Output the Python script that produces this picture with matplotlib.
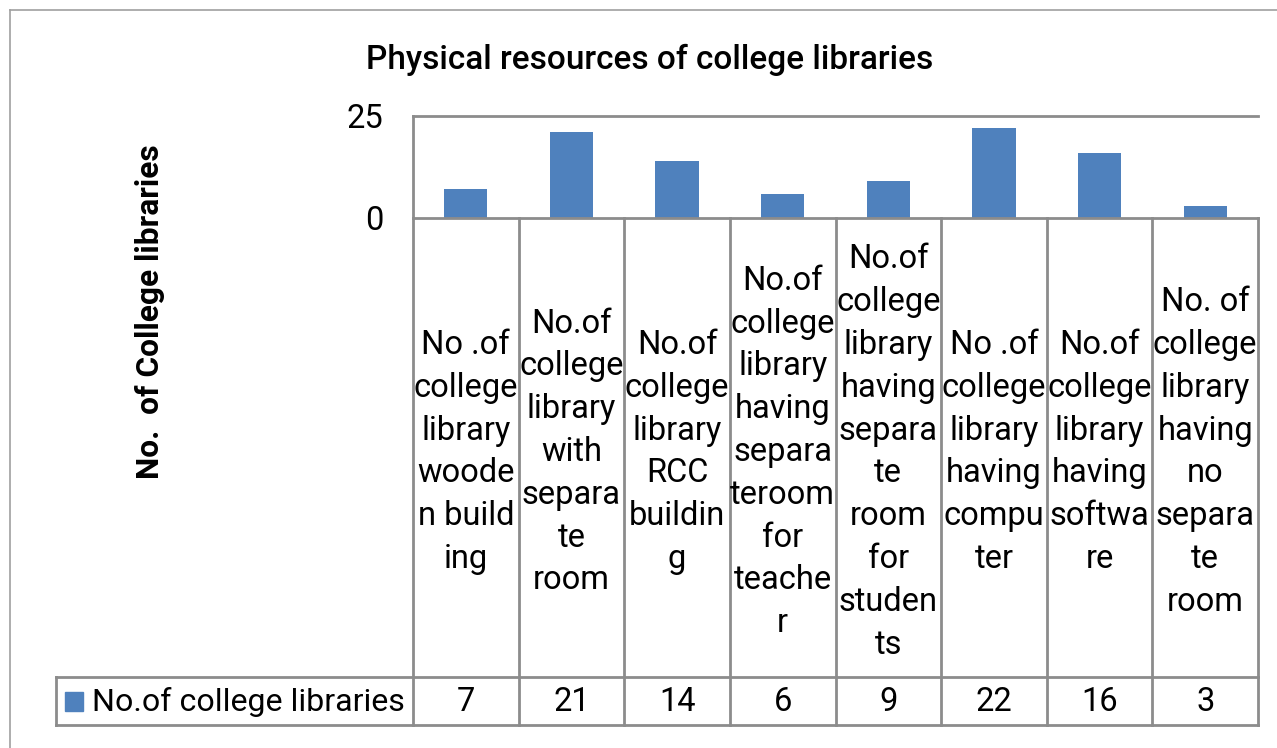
import matplotlib
matplotlib.use("Agg")
import matplotlib.pyplot as plt
from matplotlib.transforms import blended_transform_factory
from matplotlib.lines import Line2D
from matplotlib.patches import Rectangle

plt.rcParams['font.family'] = ['Roboto', 'DejaVu Sans']

# ---- data ----
categories = [
    "No .of\ncollege\nlibrary\nwoode\nn build\ning",
    "No.of\ncollege\nlibrary\nwith\nsepara\nte\nroom",
    "No.of\ncollege\nlibrary\nRCC\nbuildin\ng",
    "No.of\ncollege\nlibrary\nhaving\nsepara\nteroom\nfor\nteache\nr",
    "No.of\ncollege\nlibrary\nhaving\nsepara\nte\nroom\nfor\nstuden\nts",
    "No .of\ncollege\nlibrary\nhaving\ncompu\nter",
    "No.of\ncollege\nlibrary\nhaving\nsoftwa\nre",
    "No. of\ncollege\nlibrary\nhaving\nno\nsepara\nte\nroom",
]
values = [7, 21, 14, 6, 9, 22, 16, 3]
series_name = "No.of college libraries"
y_ticks = [0, 25]
title = "Physical resources of college libraries"
y_label = "No.  of College libraries"

BAR = "#4F81BD"
GRID = "#8C8C8C"
FS = 23.5

W, H = 1277, 748
fig = plt.figure(figsize=(W / 100, H / 100), dpi=100)

def fy(p):  # pixel-from-top -> figure fraction
    return 1 - p / H

def fx(p):
    return p / W

# plot area
left, right, top, zero = 413, 1258, 116, 218
ax = fig.add_axes([fx(left), fy(zero), fx(right - left), (zero - top) / H])
x = list(range(len(values)))
ax.bar(x, values, width=0.41, color=BAR, zorder=3)
ax.set_xlim(-0.5, len(values) - 0.5)
ax.set_ylim(y_ticks[0], y_ticks[-1])
ax.set_yticks(y_ticks)
ax.set_yticklabels([str(t) for t in y_ticks], fontsize=FS)
ax.tick_params(axis='y', length=0, pad=21.5)
ax.set_xticks([])
for s in ['right', 'bottom']:
    ax.spines[s].set_visible(False)
for s in ['left', 'top']:
    ax.spines[s].set_color(GRID)
    ax.spines[s].set_linewidth(2)

# outer chart frame
fig.add_artist(Line2D([fx(10), fx(10)], [fy(10), fy(748)], color="#A0A0A0", lw=1.2))
fig.add_artist(Line2D([fx(10), fx(1277)], [fy(10), fy(10)], color="#A0A0A0", lw=1.2))

# title & y label
fig.text(fx(650), fy(60), title, fontsize=24, ha='center', va='center', fontweight='medium')
fig.text(fx(150), fy(312), y_label, fontsize=22.8, ha='center', va='center',
         rotation=90, fontweight='bold')

# data table below axis
trans = blended_transform_factory(ax.transData, fig.transFigure)
row_top, row_bot = 677, 725
legend_left = 56
n = len(values)
# horizontal lines
fig.add_artist(Line2D([fx(left), fx(right)], [fy(zero), fy(zero)], color=GRID, lw=2))
for yy in (row_top, row_bot):
    fig.add_artist(Line2D([fx(legend_left), fx(right)], [fy(yy), fy(yy)], color=GRID, lw=2))
# vertical lines
for i in range(n + 1):
    ax.add_line(Line2D([i - 0.5, i - 0.5], [fy(zero), fy(row_bot)], transform=trans,
                       color=GRID, lw=2, clip_on=False))
fig.add_artist(Line2D([fx(legend_left), fx(legend_left)], [fy(row_top), fy(row_bot)],
                      color=GRID, lw=2))

# category labels (each line placed with fixed spacing, centered in cell)
line_h = 42.8
cell_mid = 452
for i, lab in enumerate(categories):
    lines = lab.split("\n")
    start = cell_mid - (len(lines) - 1) * line_h / 2
    for j, ln in enumerate(lines):
        ax.text(i, fy(start + j * line_h), ln, transform=trans, ha='center', va='center',
                fontsize=FS, clip_on=False)

# values row
val_y = (row_top + row_bot) / 2 + 1
for i, v in enumerate(values):
    ax.text(i, fy(val_y), str(v), transform=trans, ha='center', va='center',
            fontsize=FS, clip_on=False)

# legend key
fig.add_artist(Rectangle((fx(65), fy(711)), fx(18), (711 - 692) / H, color=BAR,
                         transform=fig.transFigure))
fig.text(fx(92), fy(val_y), series_name, fontsize=23.1, ha='left', va='center')

fig.savefig("out.png", dpi=100)
